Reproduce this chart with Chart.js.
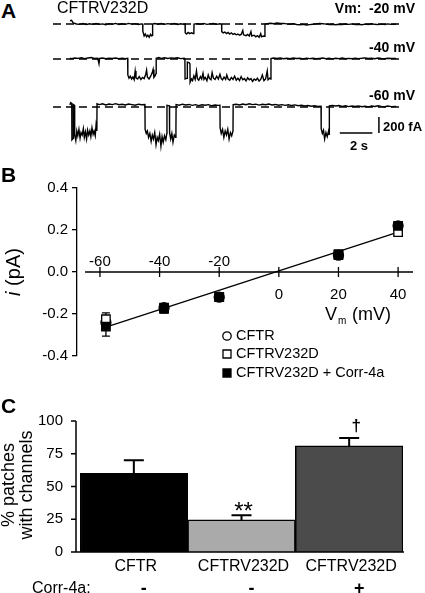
<!DOCTYPE html>
<html>
<head>
<meta charset="utf-8">
<script src="https://cdn.jsdelivr.net/npm/chart.js@4"></script>
<style>
body { margin: 0; background: #fff; }
#fig { position: relative; width: 425px; height: 593px; overflow: hidden; font-family: "Liberation Sans", Arial, sans-serif; color: #000; }
#fig canvas { position: absolute; }
.t { position: absolute; white-space: pre; line-height: 1; }
.b { font-weight: bold; }
</style>
</head>
<body>
<div id="fig">
<canvas id="trace20" width="352" height="32" style="left:53px;top:14px"></canvas>
<canvas id="trace40" width="352" height="47" style="left:53px;top:49px"></canvas>
<canvas id="trace60" width="352" height="55" style="left:53px;top:97px"></canvas>
<canvas id="ivChart" width="425" height="215" style="left:0;top:170px"></canvas>
<canvas id="barChart" width="425" height="198" style="left:0;top:395px"></canvas>

<div class="t b" style="left:1px;top:0px;font-size:21px">A</div>
<div class="t" style="left:57px;top:0px;font-size:16px">CFTRV232D</div>
<div class="t b" style="right:10px;top:1px;font-size:14px">Vm:  -20 mV</div>
<div class="t b" style="right:10px;top:40px;font-size:14px">-40 mV</div>
<div class="t b" style="right:10px;top:88px;font-size:14px">-60 mV</div>
<div class="t b" style="left:383px;top:120px;font-size:13px">200 fA</div>
<div class="t b" style="left:350px;top:139px;font-size:13px">2 s</div>
<div class="t b" style="left:1px;top:164px;font-size:21px">B</div>
<div class="t b" style="left:1px;top:395px;font-size:21px">C</div>
</div>

<script>
// ---- data ----
// single channel traces: [time (s), current (fA)], closed level = 0
const trace20 = [[0, 40], [0.1, 45], [0.2, 15], [0.4, 0], [0.6, -5], [0.8, 5], [1.0, -8], [1.2, 3], [1.4, -5], [1.6, 6], [1.8, -4], [2.0, 2], [2.2, -9], [2.4, 4], [2.6, -3], [2.8, 7], [3.0, -6], [3.2, 3], [3.4, -4], [3.6, 8], [3.8, -2], [4.0, 5], [4.2, -6], [4.4, 2],
  [4.46, 0], [4.47, -90], [4.55, -150], [4.62, -125], [4.7, -160], [4.78, -140], [4.86, -165], [4.94, -130], [5.02, -150], [5.06, -140], [5.07, 0],
  [5.2, 6], [5.4, -3], [5.6, 8], [5.8, -5], [6.0, 4], [6.2, -2], [6.4, 7], [6.6, -6], [6.8, 3], [7.0, -4],
  [7.06, 0], [7.07, -110], [7.15, -125], [7.25, -105], [7.35, -120], [7.45, -110], [7.55, -118], [7.6, -100], [7.61, 0],
  [7.8, 5], [8.0, -3], [8.2, 7], [8.4, -5], [8.6, 2], [8.8, 6], [9.0, -4], [9.2, 3],
  [9.3, 0], [9.31, -95], [9.4, -110], [9.5, -100], [9.6, -120], [9.7, -105], [9.8, -125], [9.9, -110], [10.0, -130], [10.1, -120], [10.2, -135], [10.3, -125], [10.4, -140], [10.5, -130], [10.6, -80], [10.65, -135], [10.8, -145], [10.9, -130], [11.0, -150], [11.1, -95], [11.15, -150], [11.3, -140], [11.4, -160], [11.5, -145], [11.6, -165], [11.7, -120], [11.75, -160], [11.85, -150], [11.95, -155], [11.96, 0],
  [12.1, 5], [12.3, 10], [12.5, 3], [12.7, 12], [12.9, 6], [13.1, 8], [13.3, 2], [13.5, -3], [13.7, 4], [13.9, -6], [14.1, -10], [14.3, -5], [14.5, -12], [14.7, -8], [14.9, -4], [15.1, 2], [15.3, 8], [15.5, 4], [15.7, -2], [15.9, -8], [16.1, -4], [16.3, -10], [16.5, -3], [16.7, -7], [16.9, 0], [17.1, -5], [17.3, 2], [17.5, -8], [17.7, -3], [17.9, -9], [18.1, -2], [18.3, -6], [18.5, 3], [18.7, -4], [18.9, -8], [19.1, -2], [19.3, -6], [19.5, 2], [19.7, -5], [20, -3]];

const trace40 = [[0, 10], [0.1, 5], [0.3, 12], [0.5, 8], [0.7, 15], [0.9, 5], [1.1, 12], [1.3, 18], [1.5, 6], [1.7, 10], [1.78, -60], [1.82, 8], [2.0, 12], [2.2, 4], [2.4, 10], [2.6, 6], [2.8, 12], [3.0, 3], [3.2, 9], [3.4, 5], [3.54, 8],
  [3.55, -200], [3.62, -240], [3.7, -215], [3.78, -250], [3.86, -225], [3.94, -260], [4.0, -150], [4.05, -235], [4.15, -250], [4.25, -220], [4.35, -255], [4.45, -230], [4.55, -245], [4.65, -190], [4.7, -140], [4.75, -225], [4.85, -250], [4.95, -215], [5.05, -170], [5.1, -130], [5.15, -230], [5.22, -210], [5.28, -180],
  [5.29, 10], [5.45, 18], [5.6, 8], [5.8, 15], [6.0, 6], [6.2, 14], [6.4, 10], [6.6, 16], [6.8, 5], [7.0, 10],
  [7.05, 5], [7.06, -250], [7.18, -240], [7.2, -40], [7.3, -45], [7.36, -60], [7.37, -290], [7.45, -250], [7.52, -270], [7.6, -210], [7.68, -255], [7.76, -150], [7.82, -245], [7.9, -265], [8.0, -220], [8.08, -250], [8.16, -180], [8.22, -255], [8.3, -230], [8.4, -270], [8.48, -200], [8.56, -245], [8.65, -260], [8.72, -170], [8.8, -240], [8.9, -255], [9.0, -215], [9.1, -250], [9.2, -190], [9.28, -245], [9.36, -260], [9.45, -225], [9.55, -255], [9.62, -200], [9.7, -250], [9.8, -265], [9.9, -230], [10.0, -255], [10.1, -215], [10.2, -265], [10.3, -240], [10.4, -270], [10.5, -220], [10.6, -260], [10.7, -245], [10.8, -275], [10.9, -235], [11.0, -260], [11.1, -245], [11.2, -280], [11.3, -250], [11.4, -265], [11.5, -240], [11.6, -275], [11.7, -255], [11.8, -200], [11.9, -270], [12.0, -250], [12.1, -150], [12.15, -260], [12.25, -240], [12.32, -250],
  [12.33, 5], [12.5, 12], [12.7, 6], [12.9, 14], [13.1, 4], [13.3, 10], [13.5, 3], [13.7, 12], [13.9, 6], [14.1, 9], [14.3, 2], [14.5, 11], [14.7, 5], [14.9, 10], [15.1, 3], [15.3, 8], [15.5, 12], [15.7, 4], [15.9, 9], [16.1, 2], [16.3, 10], [16.5, 5], [16.7, 12], [16.9, 3], [17.1, 8], [17.3, 4], [17.5, 11], [17.7, 5], [17.9, 9], [18.1, 14], [18.3, 6], [18.5, 10], [18.7, 4], [18.9, 12], [19.1, 7], [19.3, 3], [19.5, 10], [19.7, 6], [20, 8]];

const trace60 = [[0, 25], [0.04, 55], [0.11, 45], [0.12, -410], [0.2, -390], [0.21, 30], [0.28, 20], [0.29, -350], [0.36, -420], [0.42, -300], [0.48, -360], [0.55, -280], [0.62, -390], [0.68, -320], [0.75, -350], [0.82, -270], [0.88, -380], [0.95, -310], [1.02, -400], [1.08, -290], [1.15, -350], [1.22, -300], [1.28, -370], [1.35, -260], [1.42, -340], [1.48, -300], [1.55, -360], [1.6, -230], [1.65, -300], [1.66, 40],
  [1.8, 30], [2.0, 40], [2.2, 25], [2.4, 38], [2.6, 30], [2.8, 42], [3.0, 28], [3.2, 35], [3.4, 25], [3.6, 38], [3.8, 30], [4.0, 22], [4.2, 35], [4.4, 28], [4.6, 30],
  [4.61, -280], [4.68, -330], [4.75, -300], [4.82, -380], [4.9, -330], [4.98, -430], [5.05, -350], [5.12, -400], [5.2, -320], [5.28, -470], [5.35, -380], [5.42, -420], [5.5, -340], [5.58, -490], [5.65, -370], [5.72, -440], [5.8, -360], [5.88, -410], [5.94, -330], [5.95, 20], [6.1, 15], [6.11, -320], [6.18, -400], [6.25, -330], [6.32, -440], [6.4, -350], [6.48, -380], [6.5, -300], [6.51, 30],
  [6.7, 22], [6.9, 35], [7.1, 25], [7.3, 32], [7.5, 20], [7.7, 30], [7.9, 18], [8.1, 28], [8.3, 22], [8.5, 30], [8.7, 15], [8.9, 25], [9.1, 20], [9.2, 22],
  [9.21, -260], [9.28, -330], [9.36, -280], [9.44, -380], [9.52, -300], [9.6, -350], [9.68, -280], [9.76, -400], [9.84, -320], [9.92, -360], [10.0, -300], [10.01, 30],
  [10.2, 35], [10.4, 25], [10.6, 38], [10.8, 28], [11.0, 40], [11.2, 30], [11.4, 36], [11.6, 24], [11.8, 34], [12.0, 28], [12.2, 38], [12.4, 26], [12.6, 32], [12.8, 22], [13.0, 30], [13.2, 20], [13.4, 28], [13.6, 18], [13.8, 26], [14.0, 16], [14.2, 22], [14.4, 12], [14.6, 18], [14.8, 10], [15.0, 16], [15.2, 8], [15.4, 10],
  [15.41, -270], [15.48, -330], [15.55, -290], [15.62, -400], [15.7, -320], [15.78, -370], [15.86, -300], [15.9, -340], [15.91, 15],
  [16.1, 20], [16.3, 12], [16.5, 18], [16.7, 8], [16.9, 15], [17.1, 5], [17.3, 12], [17.5, 6], [17.7, 14], [17.9, 4], [18.1, 10], [18.3, 2], [18.5, 12], [18.7, 6], [18.9, 15], [19.1, 8], [19.3, 3], [19.5, 12], [19.7, 5], [20, 8]];

// scale bar: 2 s and 200 fA
const scaleBarTime = [16.55, 18.55];
const scaleBarCurrent = [-125, -325];

// I-V relation
const ivVoltage = [-58, -38.5, -20, 20, 40];
const ivCFTR = [-0.24, -0.17, -0.12, 0.08, 0.22];
const ivCFTRErr = [0.02, 0.01, 0.01, 0.01, 0.01];
const ivV232D = [-0.225, -0.17, -0.12, 0.08, 0.19];
const ivV232DErr = [0.03, 0.015, 0.01, 0.01, 0.01];
const ivCorr = [-0.26, -0.175, -0.12, 0.085, 0.22];
const ivCorrErr = [0.045, 0.02, 0.01, 0.01, 0.01];
const fitVoltage = [-58, 40];
const fitCurrent = [-0.262, 0.19];
const vmTicks = [-60, -40, -20, 0, 20, 40];
const ivLegend = ['CFTR', 'CFTRV232D', 'CFTRV232D + Corr-4a'];

// % patches with channels
const groups = ['CFTR', 'CFTRV232D', 'CFTRV232D'];
const corr4a = ['-', '-', '+'];
const patchPct = [60, 24.5, 81];
const patchErr = [10, 3.5, 6];
const sigMarks = ['', '**', '\u2020'];
const pctTicks = [0, 25, 50, 75, 100];

const FONT = '"Liberation Sans", Arial, sans-serif';

// ---- panel A ----
function traceChart(id, pts, yMin, extra) {
  var ds = [
    { data: pts, borderColor: '#000', borderWidth: 1.4, order: 1 },
    { data: [[-1.04, 0], [20.45, 0]], borderColor: '#000', borderWidth: 1.3, borderDash: [8, 5], order: 2 }
  ].concat(extra || []);
  return new Chart(document.getElementById(id), {
    type: 'line',
    data: { datasets: ds },
    options: {
      responsive: false, animation: false, events: [],
      layout: { padding: 0 },
      elements: { point: { radius: 0 }, line: { tension: 0 } },
      plugins: { legend: { display: false }, tooltip: { enabled: false } },
      scales: {
        x: { type: 'linear', min: -1.04, max: 20.55, display: false },
        y: { min: yMin, max: 125, display: false }
      }
    }
  });
}

traceChart('trace20', trace20, -275);
traceChart('trace40', trace40, -462.5);
traceChart('trace60', trace60, -562.5, [
  { data: [[scaleBarTime[0], scaleBarCurrent[1]], [scaleBarTime[1], scaleBarCurrent[1]]], borderColor: '#000', borderWidth: 1.5 },
  { data: [[18.95, scaleBarCurrent[0]], [18.95, scaleBarCurrent[1]]], borderColor: '#000', borderWidth: 1.5 }
]);

// ---- panel B ----
function pts(xs, ys) { return xs.map((x, i) => ({ x: x, y: ys[i] })); }

const ivPlugin = {
  id: 'ivPlugin',
  beforeDatasetsDraw(chart) {
    const ctx = chart.ctx, xs = chart.scales.x, ys = chart.scales.y;
    ctx.save();
    ctx.strokeStyle = '#000';
    ctx.lineWidth = 1.3;
    [[ivCFTR, ivCFTRErr], [ivV232D, ivV232DErr], [ivCorr, ivCorrErr]].forEach(s => {
      ivVoltage.forEach((v, i) => {
        const x = xs.getPixelForValue(v);
        const y1 = ys.getPixelForValue(s[0][i] + s[1][i]);
        const y2 = ys.getPixelForValue(s[0][i] - s[1][i]);
        ctx.beginPath();
        ctx.moveTo(x, y1); ctx.lineTo(x, y2);
        ctx.moveTo(x - 4, y1); ctx.lineTo(x + 4, y1);
        ctx.moveTo(x - 4, y2); ctx.lineTo(x + 4, y2);
        ctx.stroke();
      });
    });
    ctx.restore();
  },
  afterDraw(chart) {
    const ctx = chart.ctx, xs = chart.scales.x, ys = chart.scales.y;
    const y0 = ys.getPixelForValue(0);
    ctx.save();
    ctx.strokeStyle = '#000';
    ctx.fillStyle = '#000';
    ctx.lineWidth = 1.3;
    // x axis through zero
    ctx.beginPath();
    ctx.moveTo(xs.getPixelForValue(-65), y0);
    ctx.lineTo(xs.getPixelForValue(45), y0);
    vmTicks.forEach(v => {
      const x = xs.getPixelForValue(v);
      ctx.moveTo(x, y0 - 5); ctx.lineTo(x, y0 + 5);
    });
    ctx.stroke();
    ctx.font = '15px ' + FONT;
    ctx.textAlign = 'center';
    ctx.textBaseline = 'middle';
    vmTicks.forEach(v => {
      ctx.fillText(String(v), xs.getPixelForValue(v), v < 0 ? y0 - 10 : y0 + 23);
    });
    // x title
    ctx.textAlign = 'left';
    ctx.textBaseline = 'alphabetic';
    ctx.font = '18px ' + FONT;
    ctx.fillText('V', 325, 150);
    ctx.font = '10px ' + FONT;
    ctx.fillText('m', 338, 154);
    ctx.font = '18px ' + FONT;
    ctx.fillText('(mV)', 352, 150);
    // y title
    ctx.save();
    ctx.translate(20, 102);
    ctx.rotate(-Math.PI / 2);
    ctx.textBaseline = 'alphabetic';
    ctx.font = 'italic 20px ' + FONT;
    const wi = ctx.measureText('i').width;
    ctx.font = '20px ' + FONT;
    const wr = ctx.measureText(' (pA)').width;
    ctx.font = 'italic 20px ' + FONT;
    ctx.fillText('i', -(wi + wr) / 2, 0);
    ctx.font = '20px ' + FONT;
    ctx.fillText(' (pA)', -(wi + wr) / 2 + wi, 0);
    ctx.restore();
    // legend
    const rows = [166, 184, 203];
    ctx.font = '14.5px ' + FONT;
    ctx.textBaseline = 'middle';
    ctx.lineWidth = 1.3;
    rows.forEach((ry, i) => {
      ctx.beginPath();
      if (i === 0) ctx.arc(227, ry, 4.2, 0, Math.PI * 2);
      else ctx.rect(223, ry - 4, 8, 8);
      ctx.fillStyle = i === 2 ? '#000' : '#fff';
      ctx.fill();
      ctx.stroke();
      ctx.fillStyle = '#000';
      ctx.fillText(ivLegend[i], 236, ry);
    });
    ctx.restore();
  }
};

new Chart(document.getElementById('ivChart'), {
  type: 'scatter',
  data: {
    datasets: [
      { data: pts(fitVoltage, fitCurrent), showLine: true, borderColor: '#000', borderWidth: 1.3, pointRadius: 0, order: 4 },
      { data: pts(ivVoltage, ivCFTR), pointStyle: 'circle', pointRadius: 5, pointBackgroundColor: '#fff', pointBorderColor: '#000', pointBorderWidth: 1.3, order: 3 },
      { data: pts(ivVoltage, ivV232D), pointStyle: 'rect', pointRadius: 6, pointBackgroundColor: '#fff', pointBorderColor: '#000', pointBorderWidth: 1.3, order: 2 },
      { data: pts(ivVoltage, ivCorr), pointStyle: 'rect', pointRadius: 6, pointBackgroundColor: '#000', pointBorderColor: '#000', pointBorderWidth: 1.3, order: 1 }
    ]
  },
  options: {
    responsive: false, animation: false, events: [],
    layout: { padding: { top: 18, right: 12, bottom: 29, left: 0 } },
    plugins: { legend: { display: false }, tooltip: { enabled: false } },
    scales: {
      x: { type: 'linear', min: -67.7, max: 45, display: false },
      y: {
        min: -0.4, max: 0.4,
        afterFit: s => { s.width = 77; },
        ticks: { stepSize: 0.2, padding: 4, color: '#000', font: { family: FONT, size: 15 },
          callback: v => Math.abs(v) < 1e-9 ? '0.0' : v.toFixed(1) },
        grid: { drawOnChartArea: false, tickLength: 5, color: '#000', lineWidth: 1.3 },
        border: { color: '#000', width: 1.3 }
      }
    }
  },
  plugins: [ivPlugin]
});

// ---- panel C ----
const barPlugin = {
  id: 'barPlugin',
  afterDraw(chart) {
    const ctx = chart.ctx, ys = chart.scales.y, area = chart.chartArea;
    const bars = chart.getDatasetMeta(0).data;
    const axisX = 76, yZero = ys.getPixelForValue(0);
    ctx.save();
    ctx.strokeStyle = '#000';
    ctx.fillStyle = '#000';
    ctx.lineWidth = 1.5;
    // axes
    ctx.beginPath();
    ctx.moveTo(axisX, ys.getPixelForValue(100));
    ctx.lineTo(axisX, yZero);
    ctx.lineTo(area.right + 1, yZero);
    pctTicks.forEach(v => {
      const y = ys.getPixelForValue(v);
      ctx.moveTo(axisX - 5, y); ctx.lineTo(axisX, y);
    });
    ctx.stroke();
    // error bars
    ctx.lineWidth = 2;
    bars.forEach((b, i) => {
      const yt = ys.getPixelForValue(patchPct[i] + patchErr[i]);
      ctx.beginPath();
      ctx.moveTo(b.x, ys.getPixelForValue(patchPct[i]));
      ctx.lineTo(b.x, yt);
      ctx.moveTo(b.x - 10, yt); ctx.lineTo(b.x + 10, yt);
      ctx.stroke();
    });
    // significance marks
    ctx.textAlign = 'center';
    ctx.textBaseline = 'alphabetic';
    ctx.font = '24px ' + FONT;
    ctx.fillText(sigMarks[1], bars[1].x + 2, 124);
    ctx.font = 'bold 17px ' + FONT;
    ctx.fillText(sigMarks[2], bars[2].x + 7, 36);
    // category labels
    ctx.textBaseline = 'middle';
    ctx.font = '16px ' + FONT;
    bars.forEach((b, i) => ctx.fillText(groups[i], b.x + 2, 172));
    ctx.textAlign = 'left';
    ctx.fillText('Corr-4a:', 32, 194);
    ctx.textAlign = 'center';
    ctx.font = 'bold 18px ' + FONT;
    bars.forEach((b, i) => ctx.fillText(corr4a[i], b.x + 10, 194));
    // y title
    ctx.save();
    ctx.translate(0, 90);
    ctx.rotate(-Math.PI / 2);
    ctx.font = '18px ' + FONT;
    ctx.textBaseline = 'middle';
    ctx.fillText('% patches', 0, 9);
    ctx.fillText('with channels', 0, 27);
    ctx.restore();
    ctx.restore();
  }
};

new Chart(document.getElementById('barChart'), {
  type: 'bar',
  data: {
    labels: groups,
    datasets: [{
      data: patchPct,
      backgroundColor: ['#000', '#aaaaaa', '#4b4b4b'],
      borderColor: '#000', borderWidth: 1.5,
      barPercentage: 1, categoryPercentage: 1
    }]
  },
  options: {
    responsive: false, animation: false, events: [],
    layout: { padding: { top: 26, right: 22, bottom: 41, left: 0 } },
    plugins: { legend: { display: false }, tooltip: { enabled: false } },
    scales: {
      x: { display: false },
      y: {
        min: 0, max: 100,
        afterFit: s => { s.width = 80; },
        ticks: { stepSize: 25, padding: 17, color: '#000', font: { family: FONT, size: 15 } },
        grid: { display: false, drawTicks: false },
        border: { display: false }
      }
    }
  },
  plugins: [barPlugin]
});
</script>
</body>
</html>
